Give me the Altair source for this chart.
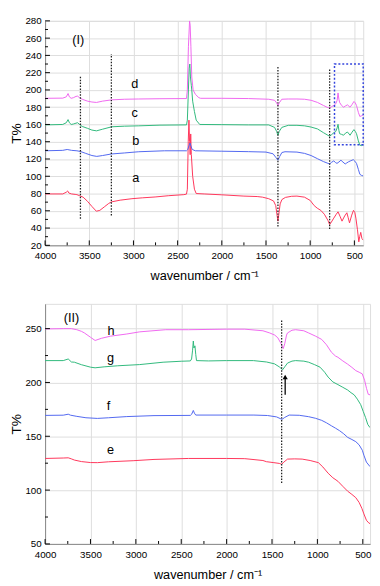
import altair as alt
import pandas as pd

# ---------------- Panel (I) spectra ----------------
A_W = [4000, 3800, 3760, 3745, 3730, 3700, 3660, 3640, 3610, 3570, 3520, 3470, 3420, 3380, 3330, 3280, 3250, 3150,
       3017, 2900, 2755, 2600, 2430, 2400, 2390, 2380, 2372, 2365, 2358, 2352, 2345, 2330, 2310, 2290, 2200, 2000,
       1750, 1600, 1540, 1470, 1415, 1390, 1375, 1365, 1355, 1340, 1320, 1280, 1210, 1150, 1065, 1000, 955, 920,
       880, 840, 800, 780, 760, 733, 705, 685, 660, 640, 610, 585, 570, 555, 530, 510, 495, 483, 465, 450, 440,
       428, 415, 400]
A_T = [79.5, 79.5, 81.5, 83, 80.5, 79.5, 79, 78.7, 77.5, 75.8, 71, 65, 59.5, 60.5, 64.5, 68.5, 70.3, 72.3,
       74, 75, 76, 77.5, 78.7, 79.3, 85, 140, 165, 140, 125, 149, 125, 100, 85, 80, 79.5, 78.5,
       77, 76.5, 75.8, 74, 71.4, 66, 55, 48, 56, 68, 73, 75.5, 76.8, 77, 75.8, 72, 66, 63,
       60.5, 56, 49, 44, 47, 51.5, 56, 58.8, 53, 48, 54, 57.7, 52, 46, 55, 60.5, 58, 51.5, 38, 24, 30,
       35, 28, 26]

B_W = [4000, 3800, 3750, 3700, 3640, 3600, 3540, 3470, 3415, 3350, 3250, 3100, 2940, 2650, 2400, 2385, 2370,
       2360, 2350, 2335, 2300, 2000, 1700, 1500, 1420, 1390, 1365, 1345, 1320, 1285, 1150, 1064, 990, 917, 850,
       800, 780, 760, 733, 715, 697, 675, 652, 630, 604, 585, 567, 540, 512, 495, 476, 455, 438, 420, 400]
B_T = [129.5, 130, 131, 130, 129.5, 128.7, 126.5, 124, 123, 124, 125.8, 127, 128.4, 129.5, 129.5, 131, 136,
       138.5, 135, 131, 129.5, 129, 128.5, 128, 126, 122, 118.6, 123, 127.5, 128.4, 128, 126.5, 124, 120.3, 117,
       115, 114.2, 116, 117.8, 116, 114.9, 116.5, 118.6, 116.5, 114.2, 115.5, 116.7, 118, 119.2, 117.5, 114.9,
       108, 102.3, 101, 100.4]

C_W = [4000, 3800, 3760, 3740, 3725, 3705, 3680, 3650, 3632, 3610, 3580, 3520, 3470, 3418, 3350, 3246, 3100,
       2940, 2700, 2400, 2390, 2378, 2370, 2362, 2355, 2345, 2340, 2330, 2310, 2290, 2250, 2000, 1700, 1470,
       1403, 1380, 1365, 1350, 1321, 1248, 1150, 1064, 990, 917, 850, 800, 780, 760, 733, 710, 695, 685, 675,
       667, 645, 622, 600, 578, 560, 549, 527, 505, 490, 476, 455, 438, 420, 400]
C_T = [159.5, 160, 162, 165.6, 162, 160, 160.5, 161.5, 162, 160, 157.7, 155.5, 153.5, 152.6, 154.5, 157.3, 158,
       158.4, 159.2, 159.5, 165, 200, 225, 230, 215, 205, 200, 187, 175, 165, 160, 159.8, 159.5, 159.5,
       156.6, 152, 147.5, 152, 156.6, 159, 159, 158.4, 157, 154.8, 150.5, 147.5, 146.4, 148, 150.4, 152, 156,
       160.2, 153, 149.3, 148.5, 147.5, 150, 151.2, 149, 147.5, 151, 154, 152, 149.3, 141, 136, 135.5, 136.6]

D_W = [4000, 3800, 3760, 3740, 3725, 3705, 3680, 3650, 3632, 3610, 3580, 3520, 3470, 3418, 3350, 3246, 3100,
       2940, 2700, 2400, 2390, 2378, 2365, 2358, 2350, 2340, 2325, 2300, 2260, 2240, 2000, 1700, 1470, 1403,
       1380, 1365, 1350, 1321, 1248, 1150, 1064, 990, 917, 850, 800, 780, 760, 733, 710, 695, 685, 675, 667,
       645, 622, 600, 578, 560, 549, 527, 505, 490, 476, 455, 438, 420, 400]
D_T = [190.3, 190.5, 192, 195.8, 192, 190.3, 191, 192.5, 192.8, 191, 189.2, 187, 186, 185.5, 187, 188.5, 189.2,
       189.5, 189.8, 190, 200, 250, 280, 275, 250, 215, 200, 195, 191, 190.3, 190.3, 190, 189.2, 188,
       185, 182, 185, 189.2, 189.5, 189.5, 189.2, 188, 185.5, 182, 179.5, 179, 180.5, 182, 184, 188, 196.5,
       189, 185.5, 182, 180, 181.5, 182.7, 181, 180, 183, 186.6, 185, 182, 174, 169.2, 170, 171]

# ---------------- Panel (II) spectra ----------------
E_W = [4000, 3800, 3745, 3710, 3677, 3600, 3500, 3424, 3300, 3030, 2800, 2421, 2000, 1800, 1600, 1562, 1480,
       1420, 1393, 1370, 1329, 1250, 1168, 1080, 989, 940, 882, 830, 774, 720, 667, 620, 577, 540, 510, 488,
       460, 440, 420]
E_T = [129.4, 129.8, 130, 129, 127.9, 126.5, 125.6, 125.5, 126.3, 127.3, 128.5, 129.4, 129.4, 129.2, 127.5,
       126.4, 125.5, 124.8, 124, 126, 128.8, 129, 128.8, 127.5, 125.5, 121.5, 115.7, 111.5, 108.2, 103.5, 99,
       96, 93, 88.5, 83, 77.9, 72, 70, 68.8]

F_W = [4000, 3800, 3745, 3720, 3650, 3550, 3424, 3300, 3100, 2800, 2400, 2385, 2367, 2355, 2340, 2000, 1700,
       1550, 1450, 1390, 1360, 1311, 1200, 1097, 1020, 953, 900, 845, 800, 756, 710, 667, 620, 577, 540, 505,
       488, 460, 420]
F_T = [169.4, 169.6, 170.5, 169.6, 168.5, 167.2, 166.6, 167.2, 168.3, 169.2, 169.4, 170.5, 174, 171.5, 169.7,
       169.7, 169.7, 169.3, 168, 165.7, 167.5, 169.7, 169.5, 168.2, 166.7, 164.8, 162.5, 159.7, 157.5, 155.2,
       152.3, 149, 147, 145, 142, 137, 132.4, 126, 121.8]

G_W = [4000, 3800, 3745, 3710, 3677, 3600, 3500, 3449, 3350, 3200, 2958, 2700, 2500, 2400, 2386, 2375, 2367,
       2360, 2349, 2340, 2332, 2200, 2000, 1705, 1560, 1473, 1420, 1383, 1360, 1329, 1280, 1240, 1150, 1097,
       1030, 971, 920, 882, 830, 774, 720, 667, 630, 595, 560, 523, 495, 469, 445, 420]
G_T = [220.3, 220.3, 221.8, 219, 218.8, 216.5, 214.2, 213.6, 214.5, 215.5, 216.6, 218.8, 219.7, 220, 221.8,
       230, 238.5, 232, 234, 226, 220.3, 220, 220.3, 220.3, 219, 217.3, 214.5, 211.8, 214.5, 218, 219.8, 220.3,
       219.8, 218.8, 216.5, 214.2, 209.5, 205, 200.5, 198, 195.5, 193, 190.5, 188.5, 184.5, 179.4, 173, 167.3,
       161, 158]

H_W = [4000, 3800, 3710, 3650, 3600, 3567, 3500, 3449, 3380, 3280, 3100, 2958, 2671, 2421, 2000, 1800, 1600,
       1526, 1470, 1436, 1400, 1376, 1360, 1340, 1329, 1280, 1240, 1150, 1097, 1020, 953, 900, 845, 800, 774,
       720, 667, 620, 577, 540, 506, 480, 459, 440, 420]
H_T = [249.7, 250, 250, 249, 247.5, 246, 242, 239, 241, 243, 245, 247, 249, 249, 249.5, 249.5, 248, 246, 244,
       241.5, 236, 231.5, 236, 244, 246, 248.5, 249, 248, 246, 243, 240, 235, 228, 224.5, 223.4, 220, 217, 214,
       211, 209.5, 208, 202, 194.5, 189, 188.5]

# ---------------- Annotations ----------------
TOP_VL_W = [3600, 3250, 1365, 780]
TOP_VL_LO = [50.8, 54.5, 41.7, 38.8]
TOP_VL_HI = [215.6, 241.7, 227.3, 223.6]
TOP_BOX = {"w1": [725], "w2": [400], "t1": [136.6], "t2": [230]}
TOP_LAB = ["(I)", "d", "c", "b", "a"]
TOP_LAB_W = [3625, 2985, 2985, 2975, 2975]
TOP_LAB_T = [258, 207, 173, 140.6, 97.5]

BOT_VL_W = [1394]
BOT_VL_LO = [106.6]
BOT_VL_HI = [258.8]
ARROW_W = [1355]
ARROW_LO = [188.5]
ARROW_HI = [205]
BOT_LAB = ["(II)", "h", "g", "f", "e"]
BOT_LAB_W = [3710, 3273, 3280, 3300, 3280]
BOT_LAB_T = [260, 248, 222.5, 178, 137]

X_MAJOR = [4000, 3500, 3000, 2500, 2000, 1500, 1000, 500]
X_MINOR = [3750, 3250, 2750, 2250, 1750, 1250, 750]
TOP_Y_MAJOR = list(range(20, 281, 20))
TOP_Y_MINOR = list(range(30, 271, 20))
BOT_Y_MAJOR = [50, 100, 150, 200, 250]
BOT_Y_MINOR = [75, 125, 175, 225]

SERIES_COLORS = {"a": "#ff3358", "b": "#4f66f0", "c": "#2db87a", "d": "#f066f0",
                 "e": "#ff3358", "f": "#4f66f0", "g": "#2db87a", "h": "#f066f0"}

FONT = "Liberation Sans"
W1, H1 = 326, 230
W2, H2 = 333, 246


def series_df(pairs):
    frames = []
    for name, ws, ts in pairs:
        frames.append(pd.DataFrame({"w": ws, "T": ts, "s": name}))
    return pd.concat(frames, ignore_index=True)


def panel(pairs, xdom, ydom, ymaj, ymin, width, height, vl, labels, extras):
    xs = alt.Scale(domain=xdom, reverse=True, nice=False, zero=False)
    ys = alt.Scale(domain=ydom, nice=False, zero=False)
    xax = alt.Axis(values=X_MAJOR, title="wavenumber / cm\u207b\u00b9", format="d", ticks=False,
                   labelPadding=6, titlePadding=9, labelFlush=False, titleFontWeight="normal",
                   titleFont=FONT, titleFontSize=13)
    yax = alt.Axis(values=ymaj, title="T%", format="d", ticks=False, labelPadding=4, titlePadding=2,
                   titleFontWeight="normal", titleFont=FONT, titleFontSize=14)
    names = [p[0] for p in pairs]
    df = series_df(pairs)
    lines = alt.Chart(df).mark_line(strokeWidth=1, clip=True).encode(
        x=alt.X("w:Q", scale=xs, axis=xax),
        y=alt.Y("T:Q", scale=ys, axis=yax),
        color=alt.Color("s:N", scale=alt.Scale(domain=names, range=[SERIES_COLORS[n] for n in names]),
                        legend=None),
        detail="s:N",
        order=alt.Order("idx:Q"),
    ).transform_window(idx="row_number()", groupby=["s"])

    vdf = pd.DataFrame({"w": vl[0], "lo": vl[1], "hi": vl[2]})
    vlines = alt.Chart(vdf).mark_rule(color="#222222", strokeWidth=1.3, strokeDash=[1.5, 1.5]).encode(
        x=alt.X("w:Q", scale=xs, axis=xax),
        y=alt.Y("lo:Q", scale=ys, axis=yax),
        y2="hi:Q",
    )
    tdf = pd.DataFrame({"lab": labels[0], "w": labels[1], "T": labels[2]})
    texts = alt.Chart(tdf).mark_text(font=FONT, fontSize=13, color="black", align="center",
                                     baseline="middle").encode(
        x=alt.X("w:Q", scale=xs, axis=xax),
        y=alt.Y("T:Q", scale=ys, axis=yax),
        text="lab:N",
    )
    xmaj = alt.Chart(pd.DataFrame({"v": X_MAJOR})).mark_rule(color="black", strokeWidth=1).encode(
        x=alt.X("v:Q", scale=xs, axis=xax), y=alt.value(height), y2=alt.value(height - 5))
    xmin = alt.Chart(pd.DataFrame({"v": X_MINOR})).mark_rule(color="black", strokeWidth=1).encode(
        x=alt.X("v:Q", scale=xs, axis=xax), y=alt.value(height), y2=alt.value(height - 3))
    ymj = alt.Chart(pd.DataFrame({"v": ymaj})).mark_rule(color="black", strokeWidth=1).encode(
        y=alt.Y("v:Q", scale=ys, axis=yax), x=alt.value(0), x2=alt.value(5))
    ymn = alt.Chart(pd.DataFrame({"v": ymin})).mark_rule(color="black", strokeWidth=1).encode(
        y=alt.Y("v:Q", scale=ys, axis=yax), x=alt.value(0), x2=alt.value(3))
    layers = [lines, vlines, texts, xmaj, xmin, ymj, ymn] + [e(xs, ys, xax, yax) for e in extras]
    return alt.layer(*layers).properties(width=width, height=height)


def top_box(xs, ys, xax, yax):
    bdf = pd.DataFrame(TOP_BOX)
    return alt.Chart(bdf).mark_rect(fill=None, stroke="#3344dd", strokeWidth=1.5, strokeDash=[2, 2]).encode(
        x=alt.X("w1:Q", scale=xs, axis=xax), x2="w2:Q",
        y=alt.Y("t1:Q", scale=ys, axis=yax), y2="t2:Q")


def arrow_shaft(xs, ys, xax, yax):
    adf = pd.DataFrame({"w": ARROW_W, "lo": ARROW_LO, "hi": ARROW_HI})
    return alt.Chart(adf).mark_rule(color="black", strokeWidth=1.3).encode(
        x=alt.X("w:Q", scale=xs, axis=xax), y=alt.Y("lo:Q", scale=ys, axis=yax), y2="hi:Q")


def arrow_head(xs, ys, xax, yax):
    adf = pd.DataFrame({"w": ARROW_W, "hi": ARROW_HI})
    return alt.Chart(adf).mark_point(shape="triangle-up", filled=True, color="black", size=28,
                                     opacity=1).encode(
        x=alt.X("w:Q", scale=xs, axis=xax), y=alt.Y("hi:Q", scale=ys, axis=yax))


top = panel([("a", A_W, A_T), ("b", B_W, B_T), ("c", C_W, C_T), ("d", D_W, D_T)],
            [400, 4000], [20, 280], TOP_Y_MAJOR, TOP_Y_MINOR, W1, H1,
            (TOP_VL_W, TOP_VL_LO, TOP_VL_HI), (TOP_LAB, TOP_LAB_W, TOP_LAB_T), [top_box])
bottom = panel([("e", E_W, E_T), ("f", F_W, F_T), ("g", G_W, G_T), ("h", H_W, H_T)],
               [420, 4000], [50, 273], BOT_Y_MAJOR, BOT_Y_MINOR, W2, H2,
               (BOT_VL_W, BOT_VL_LO, BOT_VL_HI), (BOT_LAB, BOT_LAB_W, BOT_LAB_T), [arrow_shaft, arrow_head])

chart = alt.vconcat(top, bottom, spacing=20).resolve_scale(
    x="independent", y="independent", color="independent"
).properties(padding=0).configure_view(
    stroke="#222222", strokeWidth=1
).configure_axis(
    labelFont=FONT, titleFont=FONT, labelFontSize=11, titleFontSize=13, titleFontWeight="normal",
    labelColor="black", titleColor="black", domainColor="black", domainWidth=1, grid=False
).configure(background="white")

chart.save("out.html", embed_options={"renderer": "svg", "actions": False})
